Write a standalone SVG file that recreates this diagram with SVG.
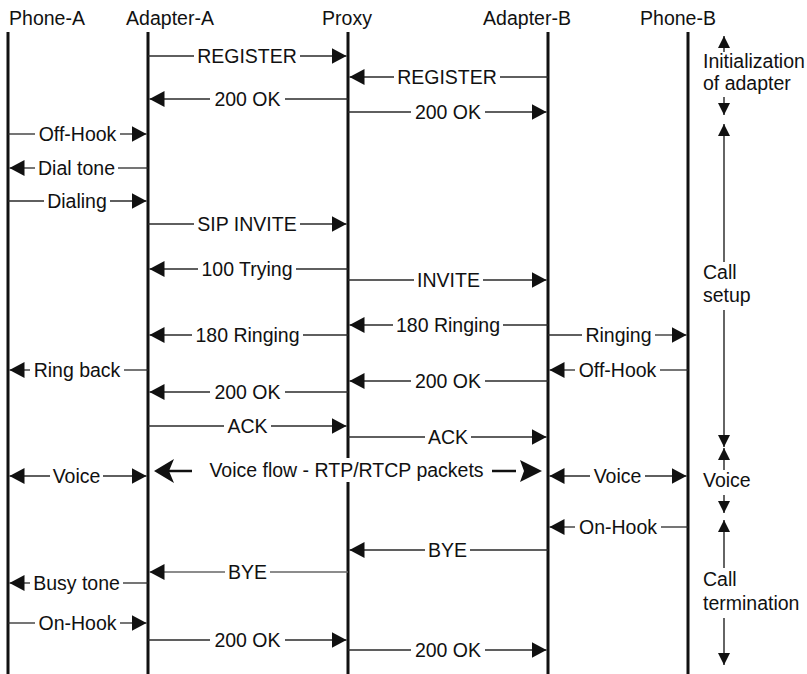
<svg xmlns="http://www.w3.org/2000/svg" width="807" height="674" viewBox="0 0 807 674">
<style>
text{font-family:"Liberation Sans",Arial,sans-serif;font-size:19.5px;fill:#111}
.h{text-anchor:middle}
.m{text-anchor:middle}
.a{text-anchor:start}
.life{stroke:#111;stroke-width:3}
.c path{stroke:#2a2a2a;stroke-width:1.3;fill:none}
.c path.e{marker-end:url(#ah)}
.c path.lg{stroke:#666}
.c path.thick{stroke:#111;stroke-width:2.5}
.ann path{stroke:#111;stroke-width:1.3;fill:none;marker-end:url(#ah2)}
</style>
<defs>
<marker id="ah" markerUnits="userSpaceOnUse" markerWidth="16" markerHeight="16" refX="15" refY="8" orient="auto" viewBox="0 0 16 16">
<path d="M0,0 L15,8 L0,16 Z" fill="#111"/>
</marker>
<marker id="ah2" markerUnits="userSpaceOnUse" markerWidth="13" markerHeight="13" refX="12" refY="6" orient="auto" viewBox="0 0 13 12">
<path d="M0,0 L12,6 L0,12 Z" fill="#111"/>
</marker>
</defs>
<rect width="807" height="674" fill="#fff"/>

<g id="phone-a"><text class="h" x="47" y="25">Phone-A</text><line class="life" x1="8" y1="32" x2="8" y2="674"/></g>
<g id="adapter-a"><text class="h" x="170" y="25">Adapter-A</text><line class="life" x1="148" y1="32" x2="148" y2="674"/></g>
<g id="proxy"><text class="h" x="347" y="25">Proxy</text><line class="life" x1="348" y1="32" x2="348" y2="674"/></g>
<g id="adapter-b"><text class="h" x="527" y="25">Adapter-B</text><line class="life" x1="548" y1="32" x2="548" y2="674"/></g>
<g id="phone-b"><text class="h" x="678" y="25">Phone-B</text><line class="life" x1="688" y1="32" x2="688" y2="674"/></g>

<g id="connectors" class="c">
<path d="M148,56 H194"/><path class="e" d="M300,56 H346.5"/><text class="m" x="247" y="63">REGISTER</text>
<path d="M548,77 H500"/><path class="e" d="M394,77 H349.5"/><text class="m" x="447" y="84">REGISTER</text>
<path d="M348,99 H285"/><path class="e" d="M210,99 H149.5"/><text class="m" x="247.5" y="106">200 OK</text>
<path d="M348,112 H411"/><path class="e" d="M485,112 H546.5"/><text class="m" x="448" y="119">200 OK</text>
<path d="M8,134 H35"/><path class="e" d="M120,134 H146.5"/><text class="m" x="77.5" y="141">Off-Hook</text>
<path d="M148,168 H118"/><path class="e" d="M35,168 H9.5"/><text class="m" x="76.5" y="175">Dial tone</text>
<path d="M8,201 H44"/><path class="e" d="M110,201 H146.5"/><text class="m" x="77" y="208">Dialing</text>
<path d="M148,224 H194"/><path class="e" d="M300,224 H346.5"/><text class="m" x="247" y="231">SIP INVITE</text>
<path d="M348,269 H296"/><path class="e" d="M198,269 H149.5"/><text class="m" x="247" y="276">100 Trying</text>
<path d="M348,280 H414"/><path class="e" d="M483,280 H546.5"/><text class="m" x="448.5" y="287">INVITE</text>
<path d="M548,325 H503"/><path class="e" d="M393,325 H349.5"/><text class="m" x="448" y="332">180 Ringing</text>
<path d="M348,335 H303"/><path class="e" d="M192,335 H149.5"/><text class="m" x="247.5" y="342">180 Ringing</text>
<path d="M548,335 H582"/><path class="e" d="M655,335 H686.5"/><text class="m" x="618.5" y="342">Ringing</text>
<path d="M148,370 H124"/><path class="e" d="M30,370 H9.5"/><text class="m" x="77" y="377">Ring back</text>
<path d="M688,370 H660"/><path class="e" d="M575,370 H549.5"/><text class="m" x="617.5" y="377">Off-Hook</text>
<path d="M548,381 H485"/><path class="e" d="M411,381 H349.5"/><text class="m" x="448" y="388">200 OK</text>
<path d="M348,392 H285"/><path class="e" d="M210,392 H149.5"/><text class="m" x="247.5" y="399">200 OK</text>
<path d="M148,426 H224"/><path class="e" d="M271,426 H346.5"/><text class="m" x="247.5" y="433">ACK</text>
<path d="M348,437 H425"/><path class="e" d="M471,437 H546.5"/><text class="m" x="448" y="444">ACK</text>
<path class="e" d="M50,476 H9.5"/><path class="e" d="M103,476 H146.5"/><text class="m" x="76.5" y="483">Voice</text>
<path class="thick" d="M168,471 H192"/><polygon points="154,471 174,459 169,471 174,483" fill="#111"/>
<rect x="342" y="458" width="12" height="24" fill="#fff"/>
<text class="m" x="346.5" y="477">Voice flow - RTP/RTCP packets</text>
<path class="thick" d="M492,471 H516"/><polygon points="542,471 520,460 524,471 520,482" fill="#111"/>
<path class="e" d="M590,476 H549.5"/><path class="e" d="M645,476 H686.5"/><text class="m" x="617.5" y="483">Voice</text>
<path d="M688,527 H661"/><path class="e" d="M575,527 H549.5"/><text class="m" x="618" y="534">On-Hook</text>
<path d="M548,550 H470"/><path class="e" d="M425,550 H349.5"/><text class="m" x="447.5" y="557">BYE</text>
<path class="lg" d="M348,572 H270"/><path class="e lg" d="M225,572 H149.5"/><text class="m" x="247.5" y="579">BYE</text>
<path d="M148,583 H123"/><path class="e" d="M30,583 H9.5"/><text class="m" x="76.5" y="590">Busy tone</text>
<path d="M8,623 H35"/><path class="e" d="M120,623 H146.5"/><text class="m" x="77.5" y="630">On-Hook</text>
<path d="M148,640 H210"/><path class="e" d="M285,640 H346.5"/><text class="m" x="247.5" y="647">200 OK</text>
<path d="M348,650 H411"/><path class="e" d="M485,650 H546.5"/><text class="m" x="448" y="657">200 OK</text>
</g>

<g id="phases" class="ann">
<path d="M724,52 V36"/><text class="a" x="703" y="68">Initialization</text><text class="a" x="703" y="90">of adapter</text><path d="M724,97 V115"/>
<path d="M724,262 V124"/><text class="a" x="703" y="279">Call</text><text class="a" x="703" y="302">setup</text><path d="M724,310 V447"/>
<path d="M724,470 V448"/><text class="a" x="703" y="487">Voice</text><path d="M724,495 V513"/>
<path d="M724,568 V520"/><text class="a" x="703" y="586">Call</text><text class="a" x="703" y="610">termination</text><path d="M724,618 V665"/>
</g>
</svg>
